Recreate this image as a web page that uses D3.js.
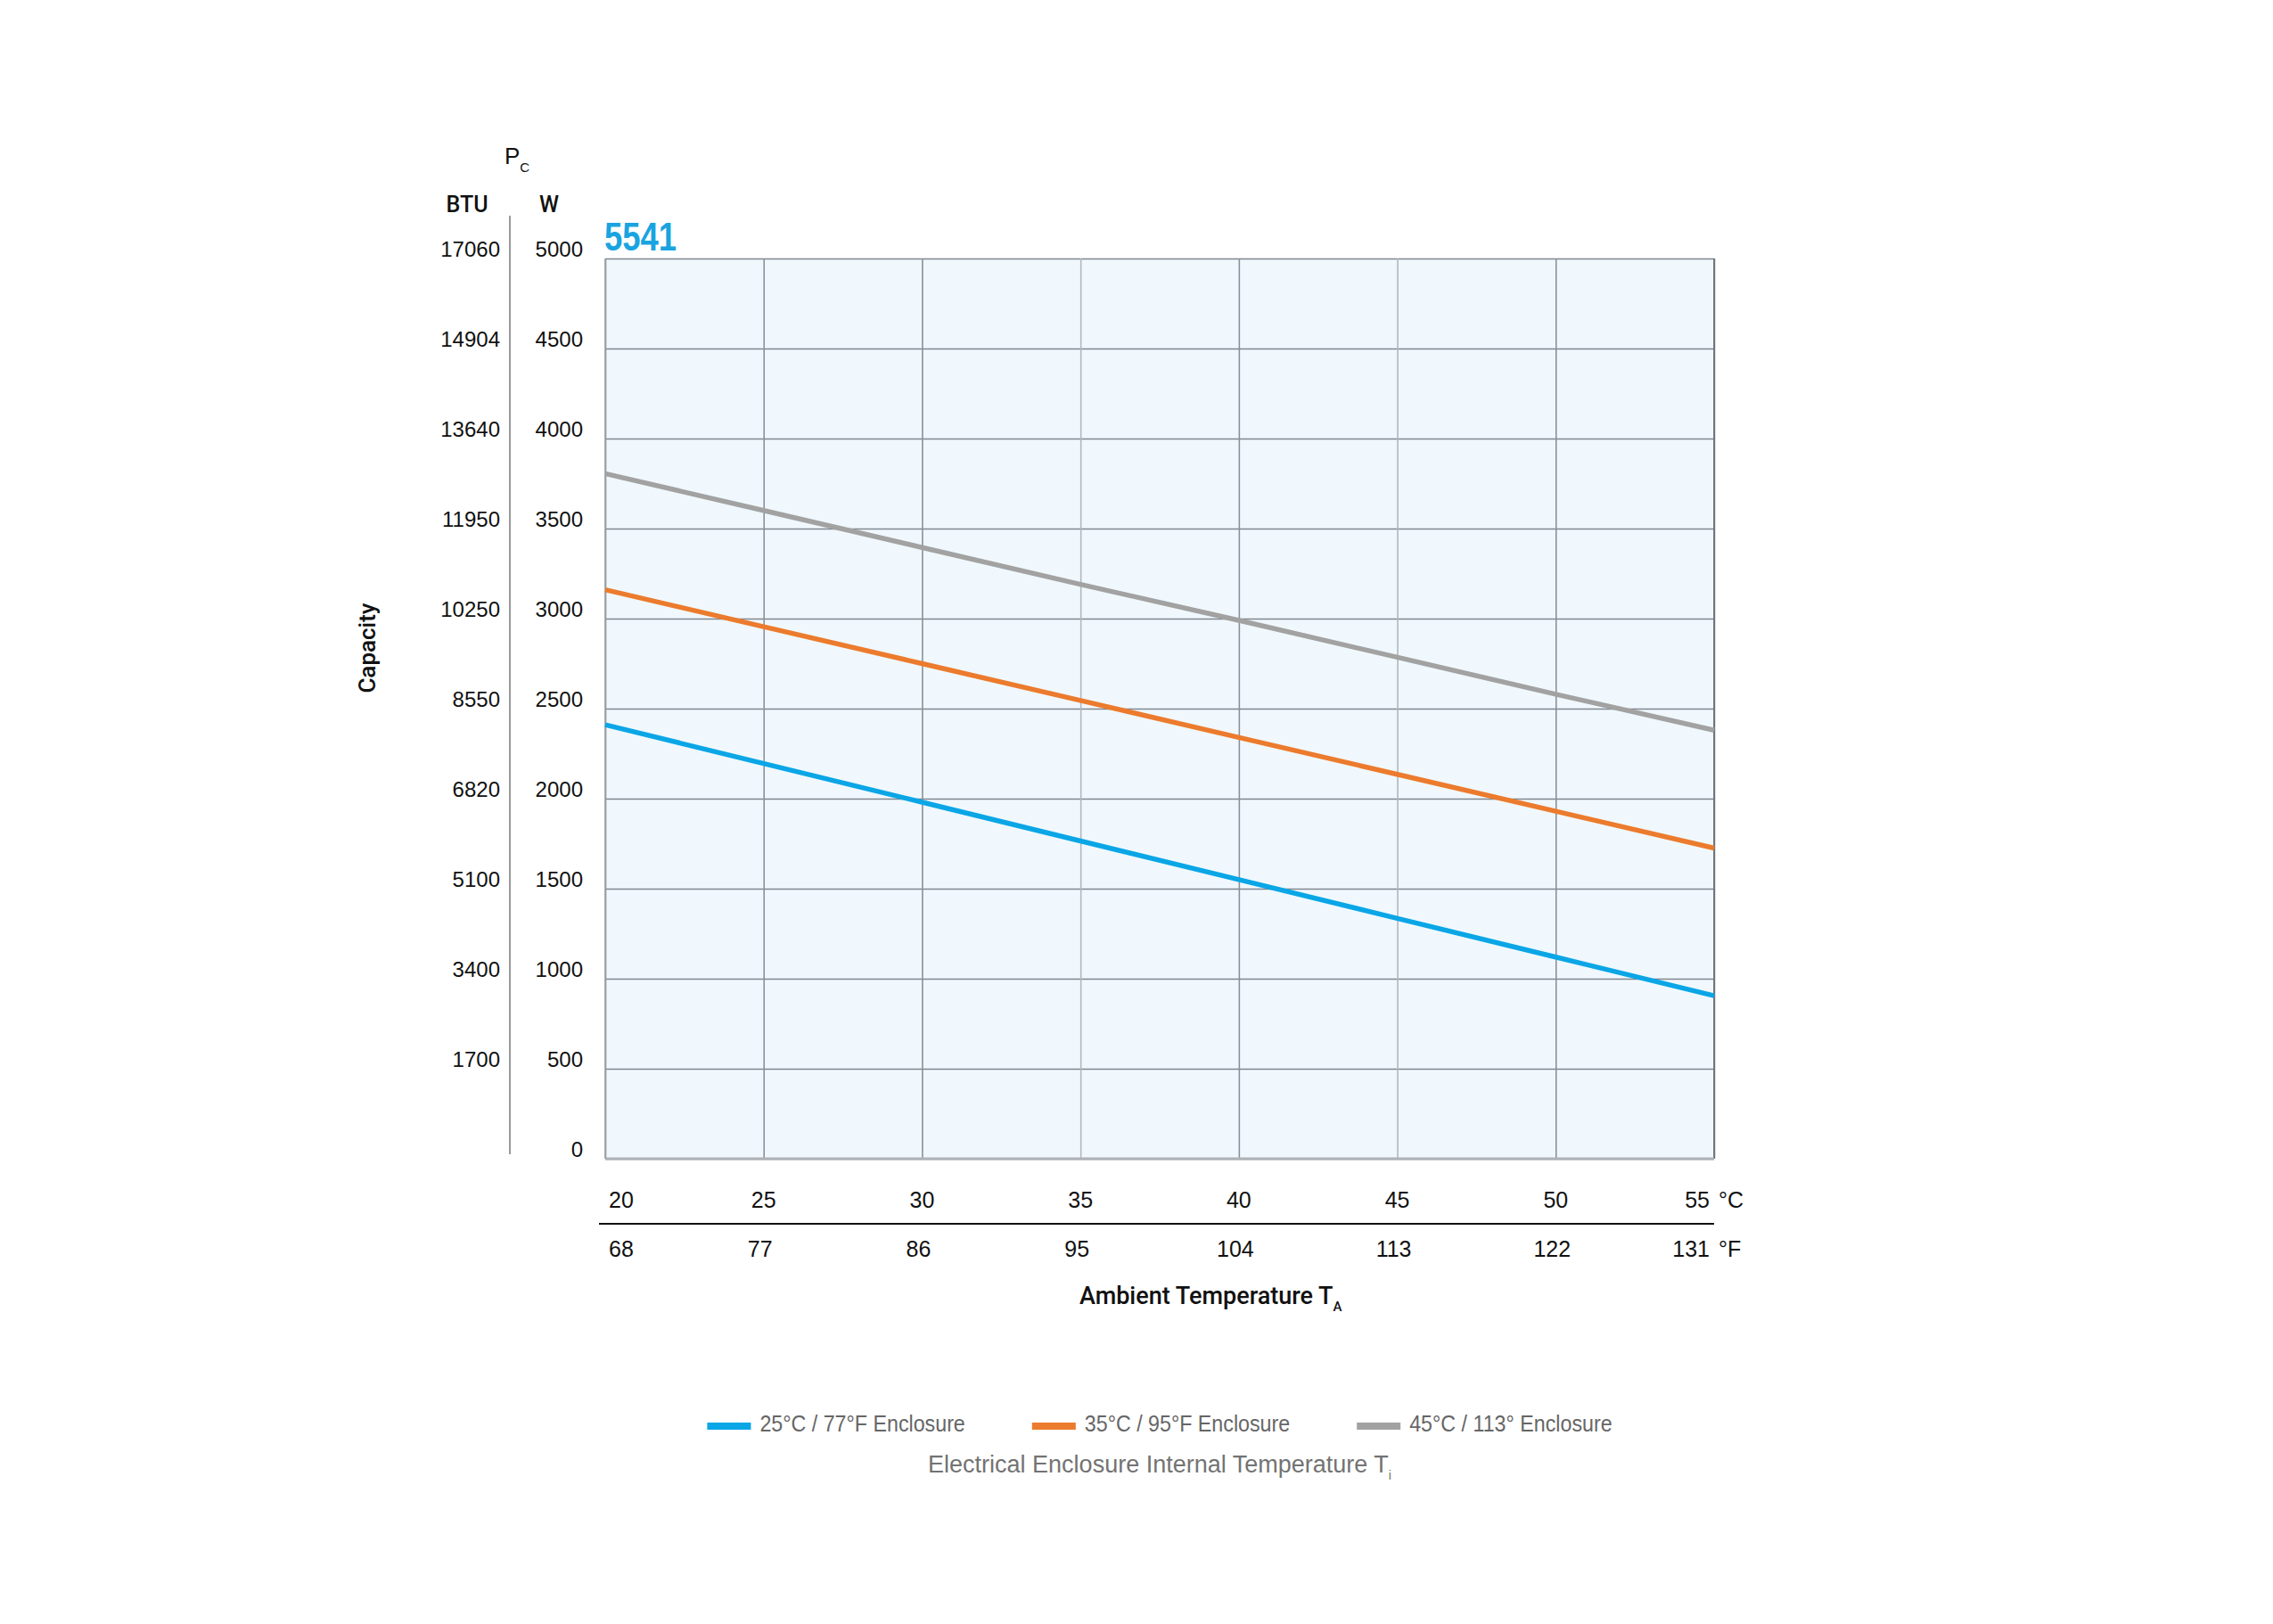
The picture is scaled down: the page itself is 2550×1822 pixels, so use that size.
<!DOCTYPE html>
<html>
<head>
<meta charset="utf-8">
<script src="https://cdn.jsdelivr.net/npm/d3@7"></script>
<style>
  body { margin: 0; background: #fff; }
  text { font-family: 'Liberation Sans', Arial, sans-serif; fill: #111; }
</style>
</head>
<body>
<div id="graf"></div>
<script>
// data
const tempsC = [20, 25, 30, 35, 40, 45, 50, 55]
const tempsF = [68, 77, 86, 95, 104, 113, 122, 131]
const wattTicks = [0, 500, 1000, 1500, 2000, 2500, 3000, 3500, 4000, 4500, 5000]
const btuTicks = ['', '1700', '3400', '5100', '6820', '8550', '10250', '11950', '13640', '14904', '17060']

const enc25 = [2410, 2195, 1980, 1765, 1550, 1335, 1120, 905]
const enc35 = [3160, 2955, 2750, 2545, 2340, 2135, 1930, 1725]
const enc45 = [3805, 3600, 3395, 3190, 2990, 2785, 2580, 2380]

const seriesNames = ['25°C / 77°F Enclosure', '35°C / 95°F Enclosure', '45°C / 113° Enclosure']
const seriesColors = ['#0aa6e6', '#ec7b2d', '#a2a2a2']

const series = [enc25, enc35, enc45].map((vals, i) => ({
  name: seriesNames[i],
  color: seriesColors[i],
  values: vals.map((v, j) => ({ t: tempsC[j], w: v })),
}))

const anchoTotal = 2550
const altoTotal = 1822

const svg = d3.select('#graf')
  .append('svg')
  .attr('width', anchoTotal)
  .attr('height', altoTotal)

const plot = { left: 679, right: 1923, top: 290, bottom: 1300 }

const x = d3.scaleLinear()
  .domain([20, 55])
  .range([plot.left, plot.right])

const y = d3.scaleLinear()
  .domain([0, 5000])
  .range([plot.bottom, plot.top])

// plot background
svg.append('rect')
  .attr('x', plot.left)
  .attr('y', plot.top)
  .attr('width', plot.right - plot.left)
  .attr('height', plot.bottom - plot.top)
  .attr('fill', '#f0f8fd')

// grid
const gridY = svg.append('g')
  .attr('transform', `translate(${plot.left}, 0)`)
  .call(
    d3.axisRight(y)
      .tickValues(wattTicks)
      .tickSize(plot.right - plot.left)
      .tickFormat('')
  )
gridY.select('.domain').remove()
gridY.selectAll('line').attr('stroke', '#80868f').attr('stroke-width', 1.6)

const gridX = svg.append('g')
  .attr('transform', `translate(0, ${plot.top})`)
  .call(
    d3.axisBottom(x)
      .tickValues(tempsC)
      .tickSize(plot.bottom - plot.top)
      .tickFormat('')
  )
gridX.select('.domain').remove()
gridX.selectAll('line')
  .attr('stroke', d => (d === 35 || d === 45 ? '#b2b7bd' : '#8b9199'))
  .attr('stroke-width', 1.6)

// frame
svg.append('line')
  .attr('x1', plot.right).attr('x2', plot.right)
  .attr('y1', plot.top).attr('y2', plot.bottom)
  .attr('stroke', '#6a707a').attr('stroke-width', 1.8)
svg.append('line')
  .attr('x1', plot.left).attr('x2', plot.right)
  .attr('y1', plot.bottom).attr('y2', plot.bottom)
  .attr('stroke', '#aeb2b6').attr('stroke-width', 3)
svg.append('line')
  .attr('x1', plot.left).attr('x2', plot.left)
  .attr('y1', plot.top).attr('y2', plot.bottom)
  .attr('stroke', '#9aa0a6').attr('stroke-width', 1.6)

// lines
const line = d3.line()
  .x(d => x(d.t))
  .y(d => y(d.w))

svg.append('g')
  .selectAll('path')
  .data(series)
  .enter()
  .append('path')
  .attr('d', d => line(d.values))
  .attr('fill', 'none')
  .attr('stroke', d => d.color)
  .attr('stroke-width', 5.5)

// model title (condensed look)
svg.append('text')
  .attr('transform', 'translate(678, 281) scale(0.81, 1)')
  .style('font-size', '45px')
  .style('font-weight', 'bold')
  .style('fill', '#19a4e0')
  .text('5541')

// y labels (W and BTU)
const yLabels = svg.append('g')
yLabels.selectAll('.w')
  .data(wattTicks)
  .enter()
  .append('text')
  .attr('class', 'w')
  .attr('x', 654)
  .attr('y', d => y(d) - 10)
  .attr('dy', '0.35em')
  .attr('text-anchor', 'end')
  .style('font-size', '24px')
  .text(d => d)

yLabels.selectAll('.btu')
  .data(wattTicks)
  .enter()
  .append('text')
  .attr('class', 'btu')
  .attr('x', 561)
  .attr('y', d => y(d) - 10)
  .attr('dy', '0.35em')
  .attr('text-anchor', 'end')
  .style('font-size', '24px')
  .text((d, i) => btuTicks[i])

svg.append('line')
  .attr('x1', 572).attr('x2', 572)
  .attr('y1', 242).attr('y2', 1295)
  .attr('stroke', '#9a9a9a').attr('stroke-width', 2)

svg.append('text')
  .attr('x', 524)
  .attr('y', 238)
  .attr('text-anchor', 'middle')
  .style('font-size', '25px')
  .style('font-family', 'Roboto, sans-serif')
  .style('font-weight', 500)
  .text('BTU')

svg.append('text')
  .attr('x', 616)
  .attr('y', 238)
  .attr('text-anchor', 'middle')
  .style('font-size', '25px')
  .style('font-family', 'Roboto, sans-serif')
  .style('font-weight', 500)
  .text('W')

const pc = svg.append('text')
  .attr('x', 566)
  .attr('y', 184)
  .style('font-size', '26px')
pc.append('tspan').text('P')
pc.append('tspan').attr('dy', 9).style('font-size', '15px').text('C')

svg.append('text')
  .attr('transform', 'translate(421, 727) rotate(-90)')
  .attr('text-anchor', 'middle')
  .style('font-size', '26px')
  .style('font-family', 'Roboto, sans-serif')
  .style('font-weight', 500)
  .text('Capacity')

// x labels (°C and °F)
const anchorFor = i => (i === 0 ? 'start' : i === tempsC.length - 1 ? 'end' : 'middle')
const shiftFor = i => (i === 0 ? 4 : i === tempsC.length - 1 ? -5 : 0)

svg.append('g')
  .selectAll('text')
  .data(tempsC)
  .enter()
  .append('text')
  .attr('x', (d, i) => x(d) + shiftFor(i))
  .attr('y', 1355)
  .attr('text-anchor', (d, i) => anchorFor(i))
  .style('font-size', '25px')
  .text(d => d)

svg.append('g')
  .selectAll('text')
  .data(tempsF)
  .enter()
  .append('text')
  .attr('x', (d, i) => x(tempsC[i]) + shiftFor(i) - (i > 0 && i < tempsF.length - 1 ? 4 : 0))
  .attr('y', 1410)
  .attr('text-anchor', (d, i) => anchorFor(i))
  .style('font-size', '25px')
  .text(d => d)

svg.append('text')
  .attr('x', x(55) + 5)
  .attr('y', 1355)
  .style('font-size', '25px')
  .text('°C')

svg.append('text')
  .attr('x', x(55) + 5)
  .attr('y', 1410)
  .style('font-size', '25px')
  .text('°F')

svg.append('line')
  .attr('x1', 672).attr('x2', plot.right)
  .attr('y1', 1373).attr('y2', 1373)
  .attr('stroke', '#111').attr('stroke-width', 2)

const ambient = svg.append('text')
  .attr('x', 1211)
  .attr('y', 1463)
  .style('font-size', '27px')
  .style('font-family', 'Roboto, sans-serif')
  .style('font-weight', 500)
ambient.append('tspan').text('Ambient Temperature T')
ambient.append('tspan').attr('dy', 8).style('font-size', '15px').text('A')

// legend
const legend = svg.append('g')
const items = legend.selectAll('g')
  .data(series)
  .enter()
  .append('g')

items.append('rect')
  .attr('width', 49)
  .attr('height', 8)
  .attr('y', 1596)
  .attr('fill', d => d.color)

const squeeze = 0.93
items.append('text')
  .attr('transform', `translate(59, 1606) scale(${squeeze}, 1)`)
  .style('font-size', '25px')
  .style('fill', '#666')
  .text(d => d.name)

const widths = []
items.each(function () {
  const w = 59 + squeeze * d3.select(this).select('text').node().getComputedTextLength()
  widths.push(w)
})
const gap = 75
const totalW = d3.sum(widths) + gap * (widths.length - 1)
let offset = (plot.left + plot.right) / 2 - totalW / 2
items.attr('transform', (d, i) => {
  const tx = offset
  offset += widths[i] + gap
  return `translate(${tx}, 0)`
})

const legendTitle = svg.append('text')
  .attr('x', (plot.left + plot.right) / 2)
  .attr('y', 1652)
  .attr('text-anchor', 'middle')
  .style('font-size', '27px')
  .style('fill', '#737373')
legendTitle.append('tspan').text('Electrical Enclosure Internal Temperature T')
legendTitle.append('tspan').attr('dy', 8).style('font-size', '14px').text('i')
</script>
</body>
</html>
